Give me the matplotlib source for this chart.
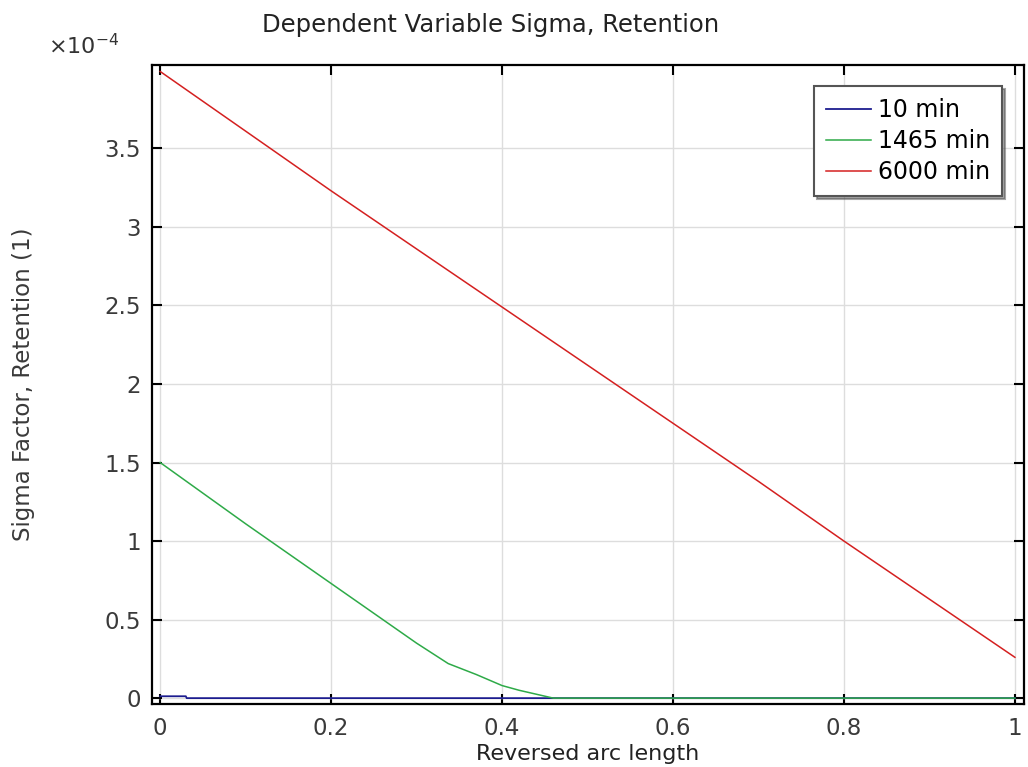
import numpy as np
import matplotlib
matplotlib.use("Agg")
import matplotlib.pyplot as plt
from matplotlib.ticker import FuncFormatter

# Data (values in units of 1e-4)
x_red = [0.0, 0.1, 0.2, 0.3, 0.4, 0.5, 0.6, 0.7, 0.8, 0.9, 1.0]
red_sigma = [3.99, 3.61, 3.23, 2.86, 2.49, 2.12, 1.75, 1.38, 1.00, 0.63, 0.26]

x_green = [0.0, 0.1, 0.2, 0.3, 0.337, 0.37, 0.4, 0.42, 0.444, 0.46, 0.5, 0.6, 0.7, 0.8, 0.9, 1.0]
green_sigma = [1.50, 1.11, 0.73, 0.35, 0.22, 0.15, 0.08, 0.05, 0.02, 0.0, 0.0, 0.0, 0.0, 0.0, 0.0, 0.0]

x_blue = [0.0, 0.03, 0.031, 0.2, 0.4, 0.6, 0.8, 1.0]
blue_sigma = [0.012, 0.012, 0.0, 0.0, 0.0, 0.0, 0.0, 0.0]

labels = ["10 min", "1465 min", "6000 min"]
colors = ["#1c1c8f", "#2eaa48", "#d42020"]
scale = 1e-4

x_ticks = [0, 0.2, 0.4, 0.6, 0.8, 1.0]
y_ticks = [0, 0.5, 1, 1.5, 2, 2.5, 3, 3.5]

plt.rcParams['font.family'] = ['DejaVu Sans']
fig = plt.figure(figsize=(10.28, 7.67), dpi=100)
ax = fig.add_axes([0.148, 0.082, 0.848, 0.833])

ax.plot(x_blue, np.array(blue_sigma) * scale, color=colors[0], lw=1.3, label=labels[0])
ax.plot(x_green, np.array(green_sigma) * scale, color=colors[1], lw=1.1, label=labels[1])
ax.plot(x_red, np.array(red_sigma) * scale, color=colors[2], lw=1.1, label=labels[2])

ax.set_xlim(-0.0094, 1.0105)
ax.set_ylim(-0.038e-4, 4.03e-4)
ax.set_xticks(x_ticks)
ax.set_yticks([v * scale for v in y_ticks])
ax.xaxis.set_major_formatter(FuncFormatter(lambda v, p: f"{v:g}"))
ax.yaxis.set_major_formatter(FuncFormatter(lambda v, p: f"{round(v * 1e4, 3):g}"))

ax.grid(True, color="#dddddd", lw=1.0)
ax.set_axisbelow(True)
ax.tick_params(direction="in", length=7, width=1.5, top=True, right=True,
               labelsize=16.5, colors="black")
ax.tick_params(axis="x", pad=9)
ax.tick_params(axis="y", pad=8)
for tl in ax.get_xticklabels() + ax.get_yticklabels():
    tl.set_color("#3a3a3a")
for s in ax.spines.values():
    s.set_linewidth(1.6)
    s.set_color("black")

fig.text(491 / 1028, 1 - 25 / 767, "Dependent Variable Sigma, Retention",
         fontsize=17.5, color="#222222", ha="center", va="center")
ax.set_xlabel("Reversed arc length", fontsize=16, labelpad=3, color="#222222")
ax.set_ylabel("Sigma Factor, Retention (1)", fontsize=16.5, labelpad=50, color="#3a3a3a")

fig.text(0.047, 1 - 46 / 767, r"$\times10^{-4}$", fontsize=16, color="#333333",
         va="center", ha="left")

leg = ax.legend(loc="upper right", bbox_to_anchor=(0.975, 0.967), fontsize=17,
                frameon=True, fancybox=False, shadow=True, handlelength=1.9,
                handletextpad=0.3, borderpad=0.5, labelspacing=0.3, borderaxespad=0)
leg.get_frame().set_edgecolor("#555555")
leg.get_frame().set_linewidth(1.5)

fig.savefig("out.png", dpi=100)
